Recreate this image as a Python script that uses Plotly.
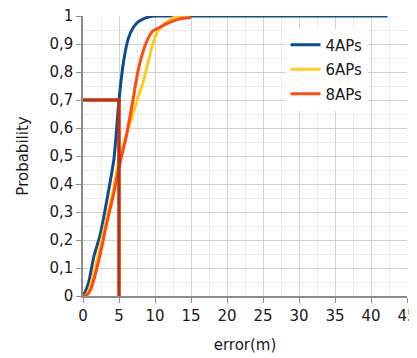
import plotly.graph_objects as go

# 4APs
x4 = [0, 0.4, 0.8, 1.5, 2.4, 3.3, 4.3, 5.0, 5.65, 6.3, 7.0, 7.7, 8.4, 9.2, 10.0, 15, 20, 30, 42.3]
y4 = [0, 0.02, 0.05, 0.14, 0.22, 0.34, 0.49, 0.70, 0.84, 0.92, 0.96, 0.98, 0.99, 0.997, 1.0, 1.0, 1.0, 1.0, 1.0]
# 6APs
x6 = [0, 0.4, 0.8, 1.5, 2.4, 3.3, 4.3, 5.0, 5.65, 6.6, 7.5, 8.2, 9.1, 9.8, 10.5, 11.7, 12.8, 14.0, 15.0]
y6 = [0, 0.003, 0.02, 0.08, 0.18, 0.28, 0.39, 0.486, 0.545, 0.62, 0.70, 0.75, 0.84, 0.91, 0.95, 0.98, 0.997, 1.0, 1.0]
# 8APs
x8 = [0, 0.6, 1.0, 1.5, 2.4, 3.3, 4.3, 5.0, 5.9, 6.8, 7.7, 8.7, 9.6, 10.7, 12.1, 13.5, 15.0]
y8 = [0, 0.005, 0.02, 0.057, 0.15, 0.26, 0.37, 0.46, 0.557, 0.68, 0.81, 0.90, 0.944, 0.96, 0.978, 0.99, 0.995]

# reference marker (x=5, P=0.7)
ref_x = [0, 5, 5]
ref_y = [0.7, 0.7, 0]

names = ["4APs", "6APs", "8APs"]
colors = ["#0F4C8E", "#FFCC1C", "#FF4A12"]

xticks = [0, 5, 10, 15, 20, 25, 30, 35, 40, 45]
yticks = [0, 0.1, 0.2, 0.3, 0.4, 0.5, 0.6, 0.7, 0.8, 0.9, 1]
ytext = ["0", "0,1", "0,2", "0,3", "0,4", "0,5", "0,6", "0,7", "0,8", "0,9", "1"]

fig = go.Figure()
for xs, ys, n, c in zip([x4, x6, x8], [y4, y6, y8], names, colors):
    fig.add_trace(go.Scatter(x=xs, y=ys, mode="lines", name=n, legendgroup=n,
                             line=dict(color=c, width=3, shape="spline", smoothing=0.6)))
fig.add_trace(go.Scatter(x=ref_x, y=ref_y, mode="lines", showlegend=False,
                         line=dict(color="#C0300E", width=3.5)))

font = "'DejaVu Sans', sans-serif"
fig.update_layout(
    width=409, height=350,
    margin=dict(l=75, r=10, t=8, b=62, autoexpand=False),
    paper_bgcolor="white", plot_bgcolor="white",
    font=dict(family=font, size=15, color="#1a1a1a"),
    showlegend=True,
    legend=dict(x=0.625, y=0.955, xanchor="left", yanchor="top",
                bgcolor="white", borderwidth=0, font=dict(size=15),
                tracegroupgap=2, itemwidth=30),
    xaxis=dict(range=[0, 45], tickmode="array", tickvals=xticks, ticktext=[str(v) for v in xticks],
               showgrid=True, gridcolor="#d2d2d2", gridwidth=1,
               minor=dict(tickmode="linear", tick0=0, dtick=2.5, showgrid=True,
                          gridcolor="#ececec", gridwidth=1),
               showline=True, linecolor="#8c8c8c", linewidth=1.5,
               ticks="outside", ticklen=5, tickcolor="#8c8c8c",
               ticklabeloverflow="allow",
               title=dict(text="error(m)", font=dict(size=15), standoff=16),
               automargin=False, zeroline=False, fixedrange=True),
    yaxis=dict(range=[0, 1], tickmode="array", tickvals=yticks, ticktext=ytext,
               showgrid=True, gridcolor="#d2d2d2", gridwidth=1,
               minor=dict(tickmode="linear", tick0=0, dtick=0.05, showgrid=True,
                          gridcolor="#ececec", gridwidth=1),
               showline=True, linecolor="#8c8c8c", linewidth=1.5,
               ticks="outside", ticklen=5, tickcolor="#8c8c8c",
               ticklabeloverflow="allow",
               title=dict(text="Probability", font=dict(size=15), standoff=17),
               automargin=False, zeroline=False, fixedrange=True),
)
fig.write_html("out.html", default_width="409px", default_height="350px")
